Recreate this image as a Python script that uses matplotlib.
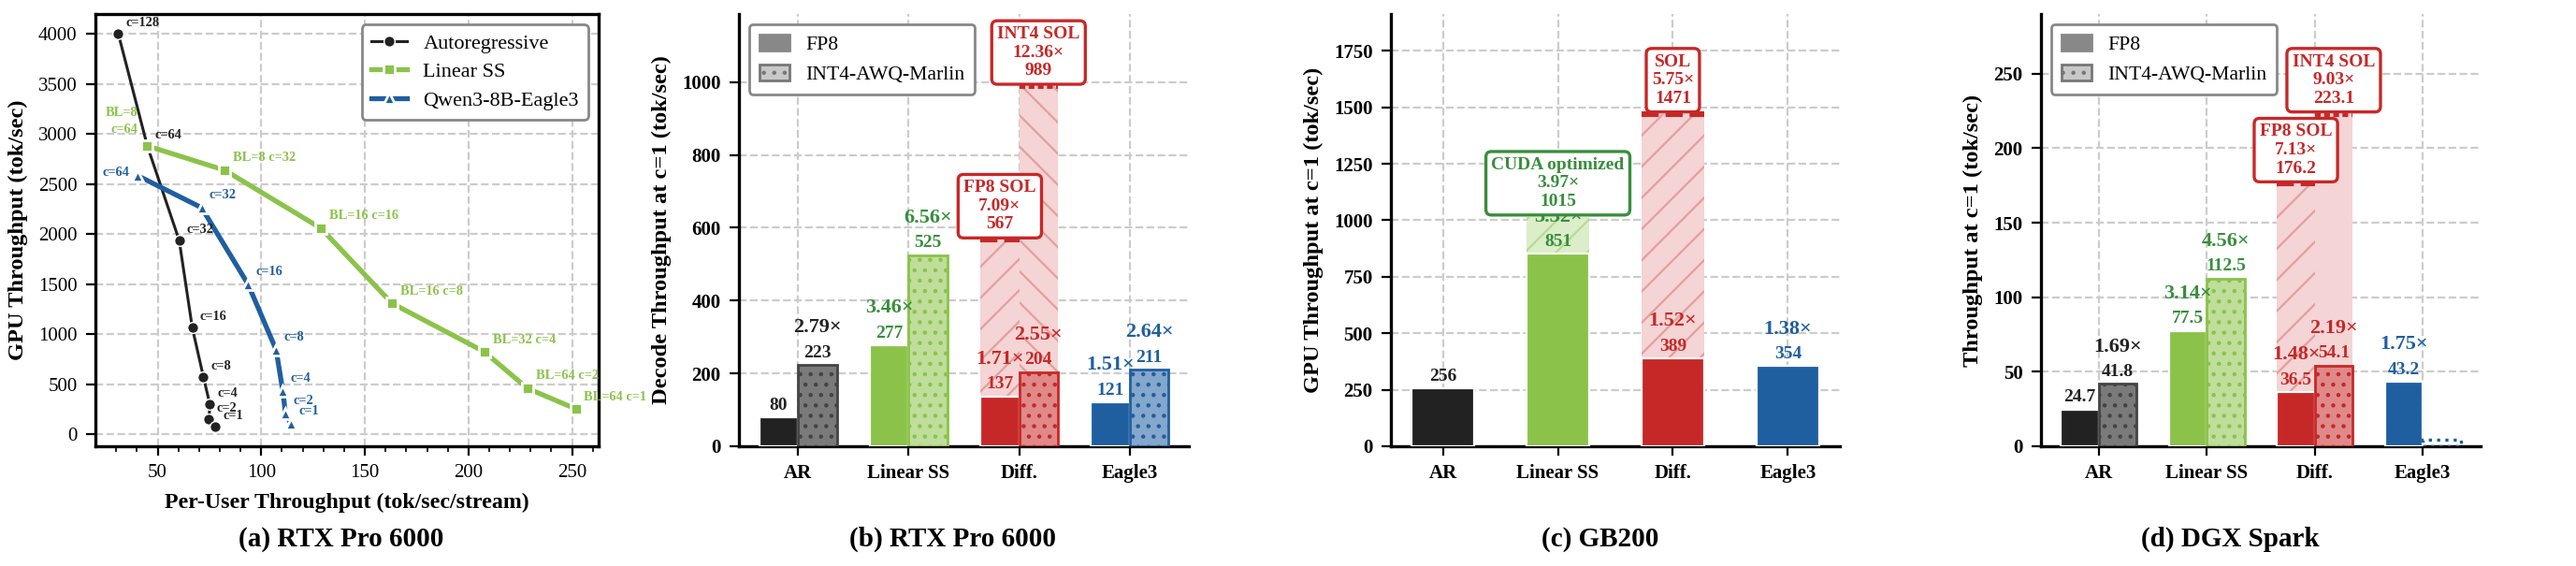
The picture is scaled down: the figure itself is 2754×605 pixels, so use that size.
import matplotlib
matplotlib.use('Agg')
import matplotlib.pyplot as plt
from matplotlib.patches import Patch
from matplotlib.colors import to_rgb
import numpy as np

plt.rcParams['font.family'] = 'serif'
plt.rcParams['font.serif'] = ['Liberation Serif', 'DejaVu Serif']
plt.rcParams['hatch.linewidth'] = 0.8

# ---------------- data ----------------
# (a) RTX Pro 6000 concurrency sweep
ar_x = [31, 45, 60.4, 66.7, 72.1, 75.2, 74.8, 77.9]
ar_y = [4000, 2880, 1935, 1065, 570, 299, 150, 75]
ar_lbl = ['c=128', 'c=64', 'c=32', 'c=16', 'c=8', 'c=4', 'c=2', 'c=1']

lss_x = [45, 82.4, 128.8, 163, 207.7, 228.4, 251.8]
lss_y = [2879, 2636, 2056, 1308, 822, 458, 252]
lss_lbl = ['BL=8\nc=64', 'BL=8 c=32', 'BL=16 c=16', 'BL=16 c=8',
           'BL=32 c=4', 'BL=64 c=2', 'BL=64 c=1']

eag_x = [40.5, 71.2, 93.7, 107.2, 110.4, 111.7, 114.4]
eag_y = [2580, 2262, 1495, 841, 430, 206, 103]
eag_lbl = ['c=64', 'c=32', 'c=16', 'c=8', 'c=4', 'c=2', 'c=1']

cats = ['AR', 'Linear SS', 'Diff.', 'Eagle3']

# (b) RTX Pro 6000, c=1
rtx_fp8 = [80, 277, 137, 121]
rtx_fp8_sp = [None, 3.46, 1.71, 1.51]
rtx_int4 = [223, 525, 204, 211]
rtx_int4_sp = [2.79, 6.56, 2.55, 2.64]
rtx_sol_fp8, rtx_sol_fp8_sp = 567, 7.09
rtx_sol_int4, rtx_sol_int4_sp = 989, 12.36

# (c) GB200, c=1
gb_fp8 = [256, 851, 389, 354]
gb_fp8_sp = [None, 3.32, 1.52, 1.38]
gb_cuda, gb_cuda_sp = 1015, 3.97
gb_sol, gb_sol_sp = 1471, 5.75

# (d) DGX Spark, c=1
spark_fp8 = [24.7, 77.5, 36.5, 43.2]
spark_fp8_sp = [None, 3.14, 1.48, 1.75]
spark_int4 = [41.8, 112.5, 54.1, None]
spark_int4_sp = [1.69, 4.56, 2.19, None]
spark_sol_fp8, spark_sol_fp8_sp = 176.2, 7.13
spark_sol_int4, spark_sol_int4_sp = 223.1, 9.03

# ---------------- style ----------------
BLACK, GREEN, RED, BLUE = '#222222', '#8BC34A', '#C62828', '#1F5FA0'
base = [BLACK, GREEN, RED, BLUE]
txt_c = [BLACK, '#388E3C', RED, BLUE]


def light(c, a):
    r, g, b = to_rgb(c)
    return (r * a + 1 - a, g * a + 1 - a, b * a + 1 - a)


int4_face = [light(BLACK, 0.6), light(GREEN, 0.55), light(RED, 0.55), light(BLUE, 0.55)]
int4_edge = ['#444444', GREEN, RED, BLUE]
GRID = dict(color='#cccccc', linestyle='--', linewidth=0.8)

fig = plt.figure(figsize=(13.77, 3.025), dpi=200)
W, H = 2754, 605


def add_ax(l, r):
    return fig.add_axes([l / W, 1 - 477 / H, (r - l) / W, 462 / H])


# ---------------- (a) ----------------
ax = add_ax(102, 640)
ax.plot(ar_x, ar_y, color=BLACK, lw=1.1, marker='o', ms=4.2, mec='white', mew=0.5,
        label='Autoregressive', zorder=3)
ax.plot(lss_x, lss_y, color=GREEN, lw=1.9, marker='s', ms=4.6, mec='white', mew=1.0,
        label='Linear SS', zorder=4)
ax.plot(eag_x, eag_y, color=BLUE, lw=1.9, marker='^', ms=4.0, mec='white', mew=1.0,
        label='Qwen3-8B-Eagle3', zorder=4)

for x, y, l in zip(ar_x, ar_y, ar_lbl):
    ax.annotate(l, (x, y), xytext=(2.9, 4.0), textcoords='offset points', fontsize=5.2,
                fontweight='bold', color=BLACK, ha='left', va='center', zorder=5)
for i, (x, y, l) in enumerate(zip(lss_x, lss_y, lss_lbl)):
    off, ha = ((-3.6, 9.4), 'right') if i == 0 else ((3.2, 4.7), 'left')
    ax.annotate(l, (x, y), xytext=off, textcoords='offset points', fontsize=5.2,
                fontweight='bold', color=GREEN, ha=ha, va='center', linespacing=1.5, zorder=5)
for i, (x, y, l) in enumerate(zip(eag_x, eag_y, eag_lbl)):
    off, ha = ((-3.2, 1.4), 'right') if i == 0 else ((2.9, 5.0), 'left')
    ax.annotate(l, (x, y), xytext=off, textcoords='offset points', fontsize=5.2,
                fontweight='bold', color=BLUE, ha=ha, va='center', zorder=5)

ax.set_xticks([50, 100, 150, 200, 250])
ax.set_xticks(np.arange(30, 261, 10), minor=True)
ax.set_yticks(np.arange(0, 4001, 500))
ax.tick_params(labelsize=7.5)
ax.grid(True, **GRID)
ax.set_axisbelow(True)
for s in ax.spines.values():
    s.set_linewidth(1.2)
ax.set_xlabel('Per-User Throughput (tok/sec/stream)', fontsize=8.6, fontweight='bold')
ax.set_ylabel('GPU Throughput (tok/sec)', fontsize=8.8, fontweight='bold')
leg = ax.legend(loc='upper right', fontsize=8, handlelength=1.7, framealpha=1,
                edgecolor='#888888', borderpad=0.45, labelspacing=0.45)
leg.get_frame().set_linewidth(1.0)


# ---------------- bar panels ----------------
def sol_region(ax, x, w, lo, hi, hatch, top_ls):
    ax.bar(x, hi - lo, w, bottom=lo, color=light(RED, 0.2), edgecolor=light(RED, 0.45),
           hatch=hatch, lw=0, zorder=2)
    ax.hlines(hi, x - w / 2, x + w / 2, color=RED, lw=2.2, linestyles=top_ls, zorder=2.5)


def box(ax, x, y, text, color):
    ax.annotate(text, (x, y), xytext=(0, 2.8), textcoords='offset points', ha='center',
                va='bottom', fontsize=7, fontweight='bold', color=color, linespacing=1.2,
                bbox=dict(boxstyle='round,pad=0.3', fc='white', ec=color, lw=1.2), zorder=8)


def bar_labels(ax, x, v, sp, color, fmt):
    ax.annotate(fmt.format(v), (x, v), xytext=(0, 3), textcoords='offset points',
                ha='center', va='baseline', fontsize=7, fontweight='bold', color=color,
                zorder=6)
    if sp is not None:
        ax.annotate(f'{sp:.2f}×', (x, v), xytext=(0, 12.5), textcoords='offset points',
                    ha='center', va='baseline', fontsize=8, fontweight='bold', color=color,
                    zorder=6)


def style_bar_ax(ax, ylabel, top):
    ax.set_ylim(0, top)
    ax.set_xticks(np.arange(len(cats)))
    ax.set_xticklabels(cats)
    for lab in ax.get_xticklabels() + ax.get_yticklabels():
        lab.set_fontweight('bold')
    ax.tick_params(labelsize=7.5)
    ax.grid(True, **GRID)
    ax.set_axisbelow(True)
    ax.spines['top'].set_visible(False)
    ax.spines['right'].set_visible(False)
    ax.spines['left'].set_linewidth(1.2)
    ax.spines['bottom'].set_linewidth(1.2)
    ax.set_ylabel(ylabel, fontsize=8.8, fontweight='bold')


def quant_legend(ax):
    h = [Patch(facecolor='#888888', edgecolor='#888888', label='FP8'),
         Patch(facecolor='#c8c8c8', edgecolor='#777777', hatch='...', label='INT4-AWQ-Marlin')]
    leg = ax.legend(handles=h, loc='upper left', fontsize=7.8, framealpha=1,
                    edgecolor='#888888', handlelength=1.5, handleheight=0.85,
                    borderpad=0.5, labelspacing=0.5)
    leg.get_frame().set_linewidth(1.0)


def two_bar_panel(ax, fp8, fp8_sp, int4, int4_sp, sol8, sol8_sp, sol4, sol4_sp,
                  fmt, int4_hatch_sol):
    xs = np.arange(len(cats))
    w = 0.35
    sol_region(ax, xs[2] - w / 2, w, fp8[2], sol8, '//', (0, (3, 1.2)))
    sol_region(ax, xs[2] + w / 2, w, int4[2], sol4, int4_hatch_sol, (0, (1, 0.6)))
    for i in range(len(cats)):
        ax.bar(xs[i] - w / 2, fp8[i], w, color=base[i], edgecolor='white', lw=0.8, zorder=3)
        bar_labels(ax, xs[i] - w / 2, fp8[i], fp8_sp[i], txt_c[i], fmt)
        if int4[i] is None:
            ax.bar(xs[i] + w / 2, 0.015 * ax.get_ylim()[1], w, fill=False, edgecolor=base[i],
                   ls=':', lw=1.2, zorder=3)
            continue
        ax.bar(xs[i] + w / 2, int4[i], w, color=int4_face[i], edgecolor=int4_edge[i],
               hatch='...', lw=1.0, zorder=3)
        bar_labels(ax, xs[i] + w / 2, int4[i], int4_sp[i], txt_c[i], fmt)
    box(ax, xs[2] - w / 2, sol8, f'FP8 SOL\n{sol8_sp:.2f}×\n' + fmt.format(sol8), RED)
    box(ax, xs[2] + w / 2, sol4, f'INT4 SOL\n{sol4_sp:.2f}×\n' + fmt.format(sol4), RED)


# (b)
ax = add_ax(790, 1271)
style_bar_ax(ax, 'Decode Throughput at c=1 (tok/sec)', rtx_sol_int4 * 1.2)
two_bar_panel(ax, rtx_fp8, rtx_fp8_sp, rtx_int4, rtx_int4_sp, rtx_sol_fp8, rtx_sol_fp8_sp,
              rtx_sol_int4, rtx_sol_int4_sp, '{:d}', '\\\\')
quant_legend(ax)

# (c)
ax = add_ax(1487, 1967)
style_bar_ax(ax, 'GPU Throughput at c=1 (tok/sec)', gb_sol * 1.3)
xs = np.arange(len(cats))
w = 0.55
ax.bar(xs[1], gb_cuda - gb_fp8[1], w, bottom=gb_fp8[1], color=light(GREEN, 0.3),
       edgecolor=light(GREEN, 0.6), hatch='//', lw=0, zorder=2)
sol_region(ax, xs[2], w, gb_fp8[2], gb_sol, '//', (0, (3, 1.2)))
for i in range(len(cats)):
    ax.bar(xs[i], gb_fp8[i], w, color=base[i], edgecolor='white', lw=0.8, zorder=3)
    bar_labels(ax, xs[i], gb_fp8[i], gb_fp8_sp[i], txt_c[i], '{:d}')
box(ax, xs[1], gb_cuda, f'CUDA optimized\n{gb_cuda_sp:.2f}×\n{gb_cuda}', txt_c[1])
box(ax, xs[2], gb_sol, f'SOL\n{gb_sol_sp:.2f}×\n{gb_sol}', RED)

# (d)
ax = add_ax(2182, 2652)
style_bar_ax(ax, 'Throughput at c=1 (tok/sec)', spark_sol_int4 * 1.3)
two_bar_panel(ax, spark_fp8, spark_fp8_sp, spark_int4, spark_int4_sp, spark_sol_fp8,
              spark_sol_fp8_sp, spark_sol_int4, spark_sol_int4_sp, '{:.1f}', None)
quant_legend(ax)

# subtitles
for xc, t in zip([365, 1019, 1711, 2384],
                 ['(a) RTX Pro 6000', '(b) RTX Pro 6000', '(c) GB200', '(d) DGX Spark']):
    fig.text(xc / W, 1 - 576 / H, t, ha='center', va='center', fontsize=10.5,
             fontweight='bold')

fig.savefig('out.png', dpi=200)
